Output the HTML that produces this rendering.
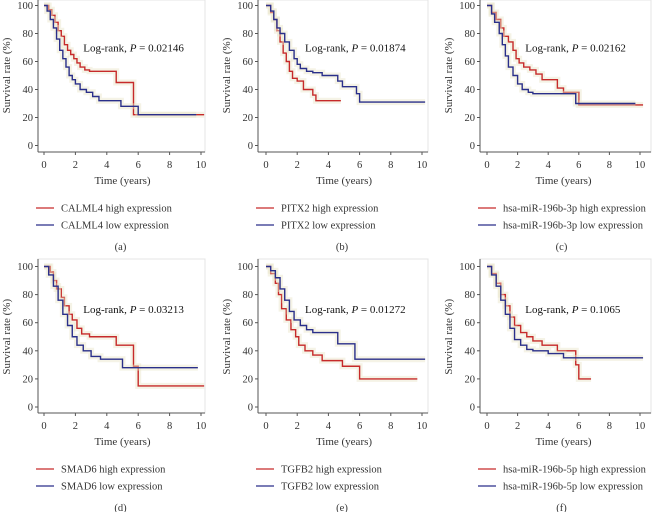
<!DOCTYPE html>
<html><head><meta charset="utf-8">
<style>
body{margin:0;background:#fff;}
svg{display:block;font-family:"Liberation Serif",serif;}
</style></head>
<body>
<svg id="fig" width="652" height="512" viewBox="0 0 652 512"></svg>
<script>
const xTicks=[0,2,4,6,8,10];
const yTicks=[0,20,40,60,80,100];
const panelLabels=["(a)","(b)","(c)","(d)","(e)","(f)"];
const pValues=["0.02146","0.01874","0.02162","0.03213","0.01272","0.1065"];
const genes=["CALML4","PITX2","hsa-miR-196b-3p","SMAD6","TGFB2","hsa-miR-196b-5p"];
const highA=[[0,100],[0.3,97],[0.5,93],[0.7,88],[0.9,82],[1.1,78],[1.3,72],[1.5,68],[1.7,65],[1.9,62],[2.1,59],[2.3,56],[2.6,54],[2.9,53],[4.6,45],[5.7,22],[10.2,22]];
const lowA=[[0,100],[0.2,96],[0.4,90],[0.6,84],[0.8,76],[1.0,68],[1.2,62],[1.4,56],[1.6,50],[1.8,47],[2.0,44],[2.3,40],[2.7,38],[3.1,35],[3.5,32],[4.9,28],[6.0,22],[9.7,22]];
const highB=[[0,100],[0.3,95],[0.5,90],[0.7,82],[0.9,74],[1.1,66],[1.3,60],[1.5,53],[1.7,48],[2.0,46],[2.4,40],[3.0,36],[3.2,32],[4.8,32]];
const lowB=[[0,100],[0.3,96],[0.5,90],[0.7,84],[0.9,80],[1.2,74],[1.5,68],[1.8,62],[2.0,58],[2.2,55],[2.6,53],[3.0,52],[3.6,50],[4.6,46],[4.9,42],[5.8,37],[6.0,31],[10.2,31]];
const highC=[[0,100],[0.3,95],[0.6,90],[0.9,84],[1.1,78],[1.4,74],[1.7,68],[1.9,62],[2.1,59],[2.4,56],[2.8,54],[3.2,51],[3.6,47],[4.6,41],[5.0,38],[6.0,29],[10.2,29]];
const lowC=[[0,100],[0.3,94],[0.5,88],[0.8,80],[1.0,72],[1.2,64],[1.4,56],[1.7,50],[2.0,44],[2.3,40],[2.7,38],[3.0,37],[5.6,37],[5.8,30],[9.7,30]];
const highD=[[0,100],[0.4,96],[0.6,90],[0.8,84],[1.1,78],[1.3,72],[1.6,66],[1.8,62],[2.1,56],[2.4,52],[2.9,50],[4.6,44],[5.7,29],[6.0,15],[10.2,15]];
const lowD=[[0,100],[0.3,94],[0.6,86],[0.9,76],[1.2,66],[1.5,58],[1.8,50],[2.1,44],[2.5,40],[3.0,36],[3.6,34],[5.0,28],[9.8,28]];
const highE=[[0,100],[0.3,95],[0.6,88],[0.8,80],[1.0,70],[1.3,62],[1.6,55],[1.9,50],[2.1,44],[2.5,40],[3.0,37],[3.6,33],[4.9,29],[6.0,20],[9.7,20]];
const lowE=[[0,100],[0.3,97],[0.6,92],[0.9,84],[1.2,76],[1.5,68],[1.8,62],[2.2,58],[2.6,55],[3.0,53],[4.6,45],[5.7,34],[10.2,34]];
const highF=[[0,100],[0.3,95],[0.6,88],[0.9,80],[1.2,72],[1.5,64],[1.8,58],[2.2,53],[2.6,50],[3.0,47],[3.6,44],[4.6,40],[5.8,30],[6.0,20],[6.8,20]];
const lowF=[[0,100],[0.3,94],[0.6,86],[0.9,76],[1.2,66],[1.5,56],[1.8,48],[2.2,44],[2.6,41],[3.0,40],[4.0,38],[5.0,35],[10.2,35]];
const highSeries=[highA,highB,highC,highD,highE,highF];
const lowSeries=[lowA,lowB,lowC,lowD,lowE,lowF];

const NS="http://www.w3.org/2000/svg";
const svg=document.getElementById('fig');
function mk(tag,attrs,parent){const e=document.createElementNS(NS,tag);for(const k in attrs)e.setAttribute(k,attrs[k]);(parent||svg).appendChild(e);return e;}
const cols=[{ax:38,x0:44,x10:201,r:205},{ax:258,x0:266,x10:422,r:428},{ax:480,x0:487,x10:640,r:651}];
const rows=[{y100:5.5,y0:145.5,bot:152,top:0},{y100:266.5,y0:407,bot:413,top:259}];
for(let p=0;p<6;p++){
  const c=cols[p%3],r=rows[Math.floor(p/3)];
  const g=mk('g',{});
  
  
  const xs=v=>c.x0+(c.x10-c.x0)*v/10;
  const ys=v=>r.y0+(r.y100-r.y0)*v/100;
  const fr=mk('rect',{x:c.ax,y:r.top,width:c.r-c.ax,height:r.bot-r.top,fill:'none',stroke:'#e4e4e4','stroke-width':1},g);
  
  const ya=mk('line',{x1:c.ax,y1:r.top,x2:c.ax,y2:r.bot,stroke:'#555','stroke-width':1},g);
  
  const xa=mk('line',{x1:c.ax,y1:r.bot,x2:c.r,y2:r.bot,stroke:'#555','stroke-width':1},g);
  
  yTicks.forEach(t=>{
    mk('line',{x1:c.ax-3,y1:ys(t),x2:c.ax,y2:ys(t),stroke:'#555'},g);
    const tx=mk('text',{x:c.ax-5,y:ys(t)+3.5,'text-anchor':'end','font-size':10.5,fill:'#333'},g);
    tx.textContent=t;
  });
  xTicks.forEach(t=>{
    mk('line',{x1:xs(t),y1:r.bot,x2:xs(t),y2:r.bot+3,stroke:'#555'},g);
    const tx=mk('text',{x:xs(t),y:r.bot+16,'text-anchor':'middle','font-size':10.5,fill:'#333'},g);
    tx.textContent=t;
  });
  const yt=mk('text',{x:0,y:0,transform:`translate(${c.ax-28},${(r.y0+r.y100)/2}) rotate(-90)`,'text-anchor':'middle','font-size':11,fill:'#333'},g);
  yt.textContent='Survival rate (%)';
  const xt=mk('text',{x:(c.x0+c.x10)/2,y:r.bot+32,'text-anchor':'middle','font-size':11,fill:'#333'},g);
  xt.textContent='Time (years)';
  const lr=mk('text',{x:xs(2.5),y:ys(67),'font-size':11,fill:'#111'},g);
  lr.innerHTML='Log-rank, <tspan font-style="italic">P</tspan> = '+pValues[p];
  
  [[highSeries[p],'#c62a2a','high'],[lowSeries[p],'#2a2f8a','low']].forEach(([d,col,nm])=>{
    let dd='M'+xs(d[0][0])+','+ys(d[0][1]);
    for(let i=1;i<d.length;i++){dd+=' H'+xs(d[i][0])+' V'+ys(d[i][1]);}
    const band=mk('path',{d:dd,fill:'none',stroke:'#e8e4c8','stroke-width':6,opacity:0.45},g);
    
    const pa=mk('path',{d:dd,fill:'none',stroke:col,'stroke-width':1.4},g);
    
  });
  const lx=c.ax-2;
  [['high','#c62a2a',r.bot+56],['low','#2a2f8a',r.bot+73]].forEach(([nm,col,y])=>{
    const lg=mk('g',{},g);
    
    mk('line',{x1:lx,y1:y,x2:lx+18,y2:y,stroke:col,'stroke-width':1.2},lg);
    const t=mk('text',{x:lx+25,y:y+3.5,'font-size':10.5,fill:'#333'},lg);
    t.textContent=genes[p]+' '+nm+' expression';
  });
  const cap=mk('text',{x:(c.x0+c.x10)/2-2,y:r.bot+98,'text-anchor':'middle','font-size':10.5,fill:'#333'},g);
  cap.textContent=panelLabels[p];
}
</script>
</body></html>
